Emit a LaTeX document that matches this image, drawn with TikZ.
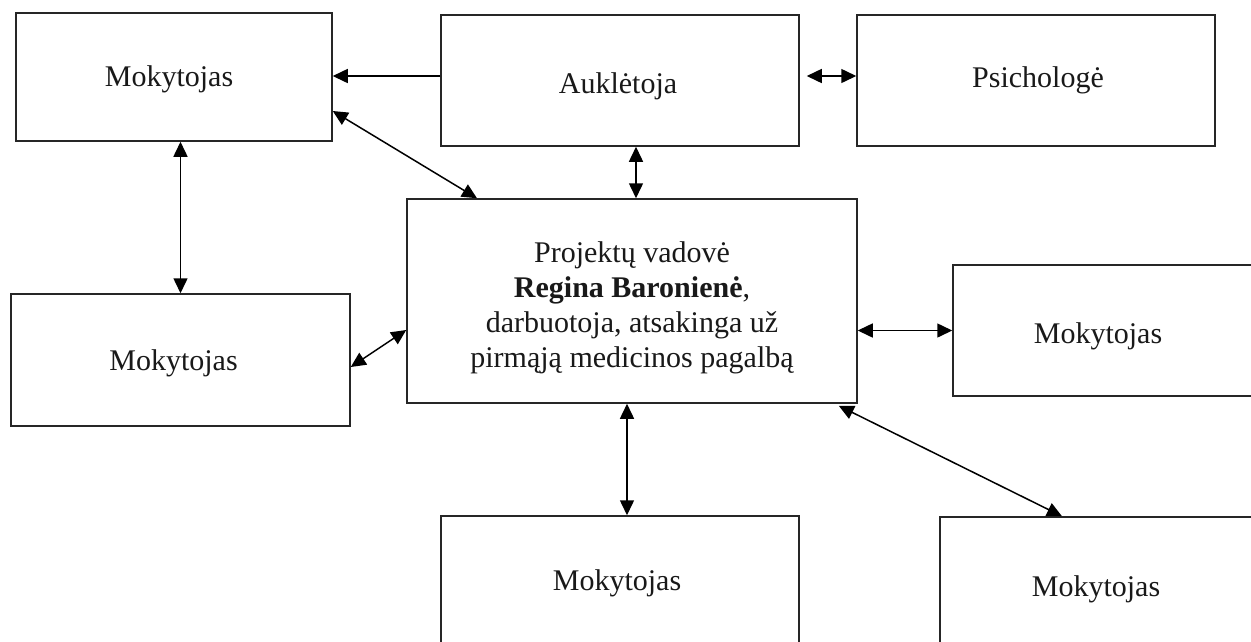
\documentclass[tikz,border=0pt]{standalone}
\usepackage{fontspec}
\setmainfont{Liberation Serif}
\usetikzlibrary{arrows.meta}
\begin{document}
\begin{tikzpicture}[x=1pt,y=-1pt,
  box/.style={draw=black!85,line width=1.5pt,rectangle,inner sep=0pt},
  lbl/.style={font=\fontsize{30}{35}\selectfont,align=center,inner sep=0pt,text=black!90},
  arr/.style={line width=1.5pt,-{Triangle[length=15pt,width=14pt]}},
  barr/.style={line width=1.5pt,{Triangle[length=15pt,width=14pt]}-{Triangle[length=15pt,width=14pt]}}]
\useasboundingbox (0,0) rectangle (1251,641);
\clip (0,0) rectangle (1251,641);
\fill[white] (0,0) rectangle (1251,641);
\node[box,minimum width=316pt,minimum height=128pt,label={[lbl,xshift=-5pt,yshift=-2pt]center:Mokytojas}] (tl) at (174,77) {};
\node[box,minimum width=358pt,minimum height=131pt,label={[lbl,xshift=-2pt,yshift=-6pt]center:Auklėtoja}] (au) at (620,80.5) {};
\node[box,minimum width=358pt,minimum height=131pt,label={[lbl,xshift=2pt]center:Psichologė}] (ps) at (1036,80.5) {};
\node[box,minimum width=450pt,minimum height=204pt,label={[lbl,yshift=-7pt]center:{Projektų vadovė\\\textbf{Regina Baronienė},\\darbuotoja, atsakinga už\\pirmąją medicinos pagalbą}}] (c) at (632,301) {};
\node[box,minimum width=339pt,minimum height=132pt,label={[lbl,xshift=-7pt,yshift=-3pt]center:Mokytojas}] (lm) at (180.5,360) {};
\node[box,minimum width=320pt,minimum height=131pt,label={[lbl,xshift=-15pt,yshift=-6pt]center:Mokytojas}] (rm) at (1113,330.5) {};
\node[box,minimum width=358pt,minimum height=131pt,label={[lbl,xshift=-3pt,yshift=-2pt]center:Mokytojas}] (bm) at (620,581.5) {};
\node[box,minimum width=314pt,minimum height=131pt,label={[lbl,xshift=-1pt,yshift=-7pt]center:Mokytojas}] (br) at (1097,582.5) {};
% connectors
\path ([yshift=4.5pt]au.west) coordinate (a1);
\draw[arr] (a1) -- (a1 -| tl.east);
\path ([yshift=4.5pt]au.east) coordinate (a2);
\draw[barr,shorten <=7pt] (a2) -- (a2 -| ps.west);
\path ([yshift=-34pt]tl.east) coordinate (t1);
\path ([xshift=-155pt]c.north) coordinate (c1);
\draw[barr] (t1) -- (c1);
\draw[barr] (lm.north |- tl.south) -- (lm.north);
\path ([xshift=16pt]au.south) coordinate (a3);
\draw[barr] (a3) -- (a3 |- c.north);
\path ([yshift=-7pt]lm.east) coordinate (l1);
\path ([yshift=-29pt]c.west) coordinate (c2);
\draw[barr] (l1) -- (c2);
\draw[barr] (c.east |- rm.west) -- (rm.west);
\path ([xshift=7pt]bm.north) coordinate (b1);
\draw[barr] (b1 |- c.south) -- (b1);
\path ([xshift=-19pt,yshift=-2pt]c.south east) coordinate (c3);
\path ([xshift=-35pt]br.north) coordinate (b2);
\draw[barr] (c3) -- (b2);
\end{tikzpicture}
\end{document}
